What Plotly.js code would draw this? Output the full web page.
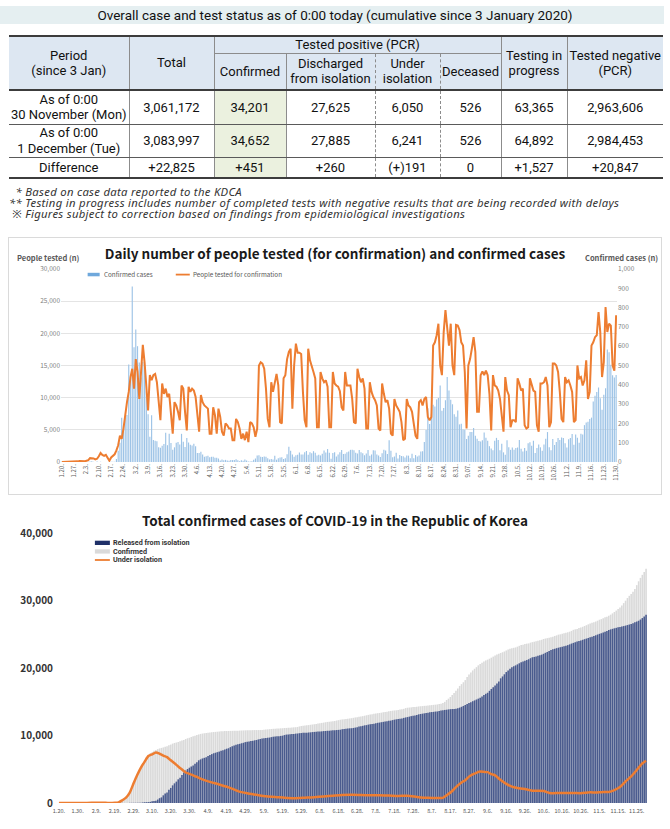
<!DOCTYPE html>
<html><head><meta charset="utf-8">
<script src="https://cdn.plot.ly/plotly-3.0.1.min.js"></script>
<style>
html,body{margin:0;padding:0;background:#fff;}
#page{position:relative;width:670px;height:829px;overflow:hidden;font-family:Roboto,'Noto Sans',sans-serif;color:#111;}
#band{position:absolute;left:0;top:6px;width:664px;height:18px;background:#e5eff1;}
#title{position:absolute;left:0;top:6px;width:670px;height:18px;line-height:18px;text-align:center;font-size:13.5px;color:#111;}
table{position:absolute;left:9px;top:35px;width:654px;border-collapse:collapse;table-layout:fixed;font-size:13px;text-align:center;}
td{padding:0;line-height:15.5px;border-left:1px solid #8c8c8c;border-right:1px solid #8c8c8c;white-space:nowrap;overflow:visible;}
tr.h1 td,tr.h2 td{background:#dde7f2;}
tr.h1 td{border-top:2px solid #3c3c3c;}
tr.h1{height:17px;} tr.h2{height:37px;}
tr.h2 td{border-bottom:2px solid #3c3c3c;}
td.tp{border-bottom:1px solid #8c8c8c;}
td.rs{border-bottom:2px solid #3c3c3c;}
tr.r1{height:34px;} tr.r2{height:33px;} tr.r3{height:21px;}
tr.r1 td,tr.r2 td{border-bottom:1px solid #5a5a5a;}
tr.r3 td{border-bottom:2px solid #3c3c3c;}
td.first{border-left:none;} td.last{border-right:none;}
td.conf{background:#ebf1df;}
td.dl{border-left:1px dashed #8c8c8c;} td.dr{border-right:1px dashed #8c8c8c;}
#notes{position:absolute;left:9px;top:186px;font-family:'Noto Sans','Noto Sans CJK KR',sans-serif;font-style:italic;font-size:11.3px;line-height:11.2px;color:#333;letter-spacing:0.3px;white-space:pre;}
#c1box{position:absolute;left:8px;top:237px;width:654px;height:258px;border:1px solid #dadada;box-sizing:border-box;}
#c1{position:absolute;left:8px;top:238px;width:654px;height:256px;}
#c2{position:absolute;left:0;top:500px;width:670px;height:329px;}
</style></head>
<body><div id="page">
<div id="band"></div>
<div id="title">Overall case and test status as of 0:00 today (cumulative since 3 January 2020)</div>
<table id="tbl">
<colgroup><col style="width:120px"><col style="width:85px"><col style="width:72px"><col style="width:89px"><col style="width:65px"><col style="width:61px"><col style="width:66px"><col style="width:96px"></colgroup>
<tr class="h1"><td class="first rs" rowspan="2">Period<br>(since 3 Jan)</td><td class="rs" rowspan="2">Total</td><td class="tp" colspan="4">Tested positive (PCR)</td><td class="rs" rowspan="2">Testing in<br>progress</td><td class="last rs" rowspan="2">Tested negative<br>(PCR)</td></tr>
<tr class="h2"><td>Confirmed</td><td class="dr">Discharged<br>from isolation</td><td class="dl dr">Under<br>isolation</td><td class="dl">Deceased</td></tr>
<tr class="r1"><td class="first">As of 0:00<br>30 November (Mon)</td><td>3,061,172</td><td class="conf">34,201</td><td class="dr">27,625</td><td class="dl dr">6,050</td><td class="dl">526</td><td>63,365</td><td class="last">2,963,606</td></tr>
<tr class="r2"><td class="first">As of 0:00<br>1 December (Tue)</td><td>3,083,997</td><td class="conf">34,652</td><td class="dr">27,885</td><td class="dl dr">6,241</td><td class="dl">526</td><td>64,892</td><td class="last">2,984,453</td></tr>
<tr class="r3"><td class="first">Difference</td><td>+22,825</td><td class="conf">+451</td><td class="dr">+260</td><td class="dl dr">(+)191</td><td class="dl">0</td><td>+1,527</td><td class="last">+20,847</td></tr>
</table>
<div id="notes">  * Based on case data reported to the KDCA
** Testing in progress includes number of completed tests with negative results that are being recorded with delays
 ※ Figures subject to correction based on findings from epidemiological investigations</div>
<div id="c1box"></div>
<div id="c1"></div>
<div id="c2"></div>
</div>
<script>
// ---------- DATA ----------
// daily confirmed cases (Jan 20 ... Nov 30)
const dailyConfirmed = [
1,0,0,0,1,0,1,1,0,0,2,5,
1,3,0,1,2,4,1,0,3,0,1,0,0,0,0,1,1,1,1,15,58,100,229,169,231,244,505,440,909,
595,686,600,516,438,518,483,367,248,131,242,114,110,107,76,74,84,93,152,87,147,98,64,76,100,104,91,146,105,78,125,
101,89,86,94,81,47,47,53,39,27,30,32,25,27,27,22,22,18,8,13,9,11,8,6,10,10,10,14,9,4,
9,6,13,8,3,2,4,12,18,34,35,27,26,29,27,19,13,15,13,32,12,20,23,25,16,19,40,79,58,39,27,
35,38,49,39,39,51,57,38,50,45,56,48,34,37,34,43,59,49,67,48,17,46,51,28,39,51,62,42,43,51,
54,63,63,61,48,44,62,50,45,35,44,62,33,39,61,60,39,34,26,45,63,59,41,113,58,25,28,48,18,36,31,
30,23,34,33,20,43,20,36,28,34,54,56,103,166,279,197,246,297,288,324,332,397,266,280,320,441,371,323,299,248,235,
267,195,198,168,167,119,136,156,155,176,136,121,109,106,113,153,126,110,82,70,61,110,125,114,61,95,50,38,113,77,
63,75,64,73,75,114,69,54,72,58,97,102,84,110,47,73,91,76,58,91,121,155,77,61,119,88,103,125,114,127,124,
97,75,118,125,145,89,143,126,100,146,143,191,205,208,223,230,313,343,363,386,330,271,349,382,583,569,504,450,438,451
];
// daily people tested for confirmation
const dailyTested = [
0,0,10,20,20,10,10, 50,80,100,150,120,60,100, 200,300,600,600,550,400,500,
900,1400,1100,950,1100,520,200, 700,900,1200,1800,2600,4100,3600,
5200,7800,9300,10900,13200,14500,11400, 16000,14000,9800,15000,18200,15500,10900,
8000,13500,12700,13500,13700,12400,8800, 6500,12200,10600,11400,10100,10600,7000,
4400,9300,8800,7800,6500,11900,11400, 7800,4900,11700,10900,11400,11100,10100,
7000,4700,10400,9300,8800,8500,8300, 4400,4400,8500,7300,4400,8300,7000,
4700,4100,6000,5700,5200,5200,3400, 3400,6700,6200,5200,3600,4400,3400,
4700,3100,6200,6000,5400,3900,5200, 15000,15500,15300,14500,11400,6700,5400,
12400,10900,12200,13700,11900,6200,6000, 13000,13500,16000,17100,17600,8300,15000,
18400,17000,17000,16800,10900,6500,5400, 17600,15800,15000,14000,13000,5400,5400,
14000,13000,12400,12700,11700,5400,5400, 14000,12200,11900,11700,11000,8500,8000,
14000,11900,11900,11900,9800,6200,6000, 14500,13200,12400,13000,11400,5200,5200,
12400,10900,10100,9600,8800,5200,4900, 12200,10600,9300,9600,8300,4400,4100,
9800,8800,8300,7800,6200,3400,3600, 9800,8800,8500,7800,5700,4100,3600,
9300,9600,8800,9800,10100,7000,6500, 7000,18100,18600,19700,21500,15000,13500,
20200,23600,20700,18100,21500,15000,13500, 21300,21200,20500,18600,18100,14000,5200,
15000,16000,17600,19400,17100,7800,7800, 13500,14100,13500,14200,13500,10600,4900,
13500,11900,11700,11100,9800,7000,4700, 13200,11100,10400,5400,6500,6500,6200,
13000,12200,11100,11400,5700,5200,5400, 13000,12200,11100,10900,5700,4700,12200,
12200,12400,13200,11900,5400,6200,15300, 15300,15000,14000,10900,6700,6200,13200,
12400,12700,11900,10900,6200,6500,15000, 13000,13200,11900,12700,15800,9800,10900,
18100,18600,19400,19700,23300,20200,13200, 15500,24100,20200,21500,21200,15000,14200,
22800
];
// cumulative confirmed
const cumConfirmed = [
1,1,1,1,2,2,3,4,4,4,6,11,
12,15,15,16,18,22,23,23,26,26,27,27,27,27,27,28,29,30,31,46,104,204,433,602,833,1077,1582,2022,2931,
3526,4212,4812,5328,5766,6284,6767,7134,7382,7513,7755,7869,7979,8086,8162,8236,8320,8413,8565,8652,8799,8897,8961,9037,9137,9241,9332,9478,9583,9661,9786,
9887,9976,10062,10156,10237,10284,10331,10384,10423,10450,10480,10512,10537,10564,10591,10613,10635,10653,10661,10674,10683,10694,10702,10708,10718,10728,10738,10752,10761,10765,
10774,10780,10793,10801,10804,10806,10810,10822,10840,10874,10909,10936,10962,10991,11018,11037,11050,11065,11078,11110,11122,11142,11165,11190,11206,11225,11265,11344,11402,11441,11468,
11503,11541,11590,11629,11668,11719,11776,11814,11864,11909,11965,12013,12047,12084,12118,12161,12220,12269,12336,12384,12401,12447,12498,12526,12565,12616,12678,12720,12763,12814,
12868,12931,12994,13055,13103,13147,13209,13259,13304,13339,13383,13445,13478,13517,13578,13638,13677,13711,13737,13782,13845,13904,13945,14058,14116,14141,14169,14217,14235,14271,14302,
14332,14355,14389,14422,14442,14485,14505,14541,14569,14603,14657,14713,14816,14982,15261,15458,15704,16001,16289,16613,16945,17342,17608,17888,18208,18649,19020,19343,19642,19890,20125,
20392,20587,20785,20953,21120,21239,21375,21531,21686,21862,21998,22119,22228,22334,22447,22600,22726,22836,22918,22988,23049,23159,23284,23398,23459,23554,23604,23642,23755,23832,
23895,23970,24034,24107,24182,24296,24365,24419,24491,24549,24646,24748,24832,24942,24989,25062,25153,25229,25287,25378,25499,25654,25731,25792,25911,25999,26102,26227,26341,26468,26592,
26689,26764,26882,27007,27152,27241,27384,27510,27610,27756,27899,28090,28295,28503,28726,28956,29269,29612,29975,30361,30691,30962,31311,31693,32276,32845,33349,33799,34237,34688
];
// cumulative released from isolation
const cumReleased = [
0,0,0,0,0,0,0,0,0,0,0,0,
0,0,1,1,1,1,2,3,3,4,7,7,7,7,7,9,9,10,12,16,16,16,16,17,18,18,22,24,27,
30,31,34,41,88,108,118,130,166,247,288,333,510,714,834,1137,1407,1540,1947,2233,2612,2909,3166,3507,3730,4144,4528,4811,5033,5228,5408,
5567,5828,6021,6325,6463,6598,6694,6776,6973,7117,7243,7368,7447,7534,7616,7757,7829,7937,8042,8114,8277,8411,8501,8635,8717,8764,8854,8922,9021,9072,
9123,9183,9217,9283,9333,9419,9484,9568,9610,9632,9670,9695,9762,9821,9851,9888,9904,9938,9977,10066,10135,10162,10194,10213,10226,10275,10295,10340,10363,10398,10405,
10422,10447,10467,10506,10531,10552,10576,10600,10613,10654,10669,10699,10718,10730,10762,10789,10810,10832,10856,10930,10968,10986,11037,11062,11078,11117,11172,11237,11317,11364,
11429,11506,11537,11613,11684,11716,11758,11811,11880,11914,11970,12019,12065,12129,12182,12204,12282,12348,12396,12437,12484,12527,12604,12674,12729,12795,12868,12929,12977,13030,13133,
13183,13233,13280,13325,13375,13438,13475,13502,13543,13563,13642,13720,13745,13786,13817,13863,13901,13917,13934,13946,14050,14130,14250,14380,14520,14660,14800,14940,15080,15200,15330,
15460,15600,15780,16000,16180,16330,16620,16900,17150,17400,17700,18000,18470,18750,19070,19400,19640,19890,20100,20260,20390,20540,20700,20850,20960,21060,21180,21300,21450,21590,
21640,21720,21800,21900,21980,22100,22250,22380,22520,22680,22760,22850,22940,23010,23080,23150,23220,23300,23390,23500,23620,23720,23820,23910,24000,24090,24180,24270,24360,24450,24540,
24640,24740,24850,24960,25060,25150,25260,25380,25500,25620,25720,25800,25880,25950,26020,26090,26150,26210,26280,26360,26440,26530,26640,26760,26880,27000,27180,27400,27620,27900
];
// under isolation (read at sample dates)
const isoDates = ['1.20','1.25','1.30','2.4','2.9','2.14','2.19','2.21','2.23','2.25','2.27','2.29','3.2','3.4','3.6','3.8','3.10','3.12','3.14','3.16','3.18','3.20','3.22','3.24','3.26','3.28','3.31','4.3','4.6','4.10','4.15','4.20','4.25','4.30','5.5','5.10','5.15','5.20','5.25','5.31','6.5','6.10','6.15','6.20','6.25','6.30','7.5','7.10','7.15','7.20','7.25','7.31','8.5','8.10','8.13','8.15','8.18','8.20','8.23','8.25','8.27','8.29','8.31','9.2','9.4','9.6','9.8','9.10','9.13','9.16','9.19','9.22','9.25','9.28','9.30','10.3','10.6','10.10','10.14','10.18','10.22','10.26','10.31','11.3','11.6','11.10','11.13','11.16','11.19','11.22','11.25','11.28','11.30'];
const isoValues = [1,2,6,15,23,20,19,87,415,807,1548,2888,4159,5255,6134,6954,7212,7470,7300,7024,6789,6325,5884,5410,4966,4523,4216,3867,3500,3125,2750,2324,1761,1446,1217,986,907,781,714,793,864,979,1077,1174,1206,1168,1136,1137,1107,1049,1089,868,764,735,766,1139,1778,2360,3049,3376,3906,4244,4471,4658,4617,4568,4285,4104,3391,2823,2434,2226,2098,1936,1829,1814,1771,1435,1493,1485,1477,1448,1584,1557,1611,1643,1919,2368,3194,3927,4883,5877,6262];
// tick labels
const ticks1 = ['1.20.','1.27.','2.3.','2.10.','2.17.','2.24.','3.2.','3.9.','3.16.','3.23.','3.30.','4.6.','4.13.','4.20.','4.27.','5.4.','5.11.','5.18.','5.25.','6.1.','6.8.','6.15.','6.22.','6.29.','7.6.','7.13.','7.20.','7.27.','8.3.','8.10.','8.17.','8.24.','8.31.','9.07.','9.14.','9.21.','9.28.','10.5.','10.12.','10.19.','10.26.','11.2.','11.9.','11.16.','11.23.','11.30.'];
const ticks2 = ['1.20.','1.30.','2.9.','2.19.','2.29.','3.10.','3.20.','3.30.','4.9.','4.19.','4.29.','5.9.','5.19.','5.29.','6.8.','6.18.','6.28.','7.8.','7.18.','7.28.','8.7.','8.17.','8.27.','9.6.','9.16.','9.26.','10.6.','10.16.','10.26.','11.5.','11.15.','11.25.'];
const left1Ticks = [0,5000,10000,15000,20000,25000,30000];
const right1Ticks = [0,100,200,300,400,500,600,700,800,900,1000];
const y2Ticks = [0,10000,20000,30000,40000];

// ---------- helpers ----------
function dayISO(i){const d=new Date(Date.UTC(2020,0,20+i));return d.toISOString().slice(0,10);}
function labelISO(s){const p=s.split('.');return '2020-'+String(+p[0]).padStart(2,'0')+'-'+String(+p[1]).padStart(2,'0');}
const dates = dailyConfirmed.map((_,i)=>dayISO(i));
const xRange = ['2020-01-19 12:00', dayISO(dates.length-1)+' 12:00'];
const FONT = "'Noto Sans CJK KR', 'Noto Sans', sans-serif";
const LFONT = "Roboto, 'Noto Sans', sans-serif";

// ---------- chart 1 ----------
const W1=654,H1=256, L1=53.4, R1=45.4, T1=30.7, B1=32.3;
// page-pixel -> paper coordinates for chart 1 (plot area 61.4..616.6 x, 268.7..461.7 y)
const p1x = X => (X-61.4)/555.2, p1y = Y => (461.7-Y)/193;
Plotly.newPlot('c1',[
 {type:'bar',x:dates,y:dailyConfirmed,yaxis:'y',name:'Confirmed cases',showlegend:false,marker:{color:'#9dc3e6',line:{width:0}}},
 {type:'scatter',mode:'lines',x:dates,y:dailyTested,yaxis:'y2',name:'People tested for confirmation',showlegend:false,line:{color:'#ed7d31',width:2}}
],{
 width:W1,height:H1,margin:{l:L1,r:R1,t:T1,b:B1},paper_bgcolor:'rgba(0,0,0,0)',plot_bgcolor:'rgba(0,0,0,0)',
 font:{family:FONT,color:'#595959'},
 bargap:0.35,showlegend:false,
 title:{text:'Daily number of people tested (for confirmation) and confirmed cases',font:{family:FONT,size:13.5,color:'#1a1a1a',weight:'bold'},x:0.5,xanchor:'center',xref:'container',y:1-16/H1,yanchor:'middle',yref:'container'},
 xaxis:{type:'date',range:xRange,tickvals:ticks1.map(labelISO),ticktext:ticks1,tickangle:-90,tickfont:{size:6,color:'#595959'},showgrid:false,zeroline:false,showline:false,ticks:''},
 yaxis:{side:'right',range:[0,1000],tickvals:right1Ticks,tickformat:',d',tickfont:{size:6.5,color:'#7f7f7f'},showgrid:false,zeroline:false,showline:false},
 yaxis2:{overlaying:'y',side:'left',range:[0,30000],tickvals:left1Ticks,tickformat:',d',tickfont:{size:6.5,color:'#7f7f7f'},showgrid:true,gridcolor:'#e4e4e4',gridwidth:1,zeroline:false,showline:false},
 shapes:[
  {type:'rect',xref:'paper',yref:'paper',x0:p1x(88),x1:p1x(100),y0:p1y(276),y1:p1y(272.5),fillcolor:'#6fa8dc',line:{width:0}},
  {type:'line',xref:'paper',yref:'paper',x0:p1x(176),x1:p1x(190),y0:p1y(274.3),y1:p1y(274.3),line:{color:'#ed7d31',width:1.8}}
 ],
 annotations:[
  {text:'People tested (n)',xref:'paper',yref:'paper',x:p1x(15),y:p1y(257),xanchor:'left',yanchor:'middle',showarrow:false,font:{size:7.5,color:'#595959',weight:'bold'}},
  {text:'Confirmed cases (n)',xref:'paper',yref:'paper',x:p1x(660),y:p1y(257),xanchor:'right',yanchor:'middle',showarrow:false,font:{size:7.5,color:'#595959',weight:'bold'}},
  {text:'Confirmed cases',xref:'paper',yref:'paper',x:p1x(102.5),y:p1y(274.3),xanchor:'left',yanchor:'middle',showarrow:false,font:{size:6.3,color:'#595959'}},
  {text:'People tested for confirmation',xref:'paper',yref:'paper',x:p1x(191.5),y:p1y(274.3),xanchor:'left',yanchor:'middle',showarrow:false,font:{size:6.3,color:'#595959'}}
 ]
},{staticPlot:true,displayModeBar:false});

// ---------- chart 2 ----------
const W2=670,H2=329, L2=58.1, R2=22.7, T2=33, B2=26;
const p2x = X => (X-58.1)/589.2, p2y = Y => (803-Y)/270;
Plotly.newPlot('c2',[
 {type:'bar',x:dates,y:cumConfirmed,name:'Confirmed',showlegend:false,marker:{color:'#dadada',line:{width:0}}},
 {type:'bar',x:dates,y:cumReleased,name:'Released from isolation',showlegend:false,marker:{color:'#4a5b8e',line:{width:0}}},
 {type:'scatter',mode:'lines',x:isoDates.map(labelISO),y:isoValues,name:'Under isolation',showlegend:false,line:{color:'#ed7d31',width:2.5,shape:'spline',smoothing:0.6}}
],{
 width:W2,height:H2,margin:{l:L2,r:R2,t:T2,b:B2},paper_bgcolor:'rgba(0,0,0,0)',plot_bgcolor:'rgba(0,0,0,0)',
 font:{family:FONT,color:'#333'},
 barmode:'overlay',bargap:0.15,showlegend:false,
 title:{text:'Total confirmed cases of COVID-19 in the Republic of Korea',font:{family:FONT,size:13.5,color:'#1a1a1a',weight:'bold'},x:0.5,xanchor:'center',xref:'container',y:1-21/H2,yanchor:'middle',yref:'container'},
 xaxis:{type:'date',range:xRange,tickvals:ticks2.map(labelISO),ticktext:ticks2,tickangle:0,tickfont:{size:5.5,color:'#555'},showgrid:false,zeroline:false,showline:false,ticks:'',ticklabelstandoff:3},
 yaxis:{range:[0,40000],tickvals:y2Ticks,tickformat:',d',tickfont:{size:10,color:'#333',weight:'bold'},showgrid:false,zeroline:false,showline:false,ticklabelstandoff:4},
 shapes:[
  {type:'rect',xref:'paper',yref:'paper',x0:p2x(95),x1:p2x(110),y0:p2y(545),y1:p2y(540.7),fillcolor:'#1f3068',line:{width:0}},
  {type:'rect',xref:'paper',yref:'paper',x0:p2x(95),x1:p2x(110),y0:p2y(553.6),y1:p2y(549.3),fillcolor:'#dadada',line:{width:0}},
  {type:'line',xref:'paper',yref:'paper',x0:p2x(95),x1:p2x(110),y0:p2y(560),y1:p2y(560),line:{color:'#ed7d31',width:1.8}}
 ],
 annotations:[
  {text:'Released from isolation',xref:'paper',yref:'paper',x:p2x(111),y:p2y(542.8),xanchor:'left',yanchor:'middle',showarrow:false,font:{family:LFONT,size:7.2,color:'#333',weight:'bold'}},
  {text:'Confirmed',xref:'paper',yref:'paper',x:p2x(111),y:p2y(551.4),xanchor:'left',yanchor:'middle',showarrow:false,font:{family:LFONT,size:7.2,color:'#333',weight:'bold'}},
  {text:'Under isolation',xref:'paper',yref:'paper',x:p2x(111),y:p2y(560),xanchor:'left',yanchor:'middle',showarrow:false,font:{family:LFONT,size:7.2,color:'#333',weight:'bold'}}
 ]
},{staticPlot:true,displayModeBar:false});
</script>
</body></html>
